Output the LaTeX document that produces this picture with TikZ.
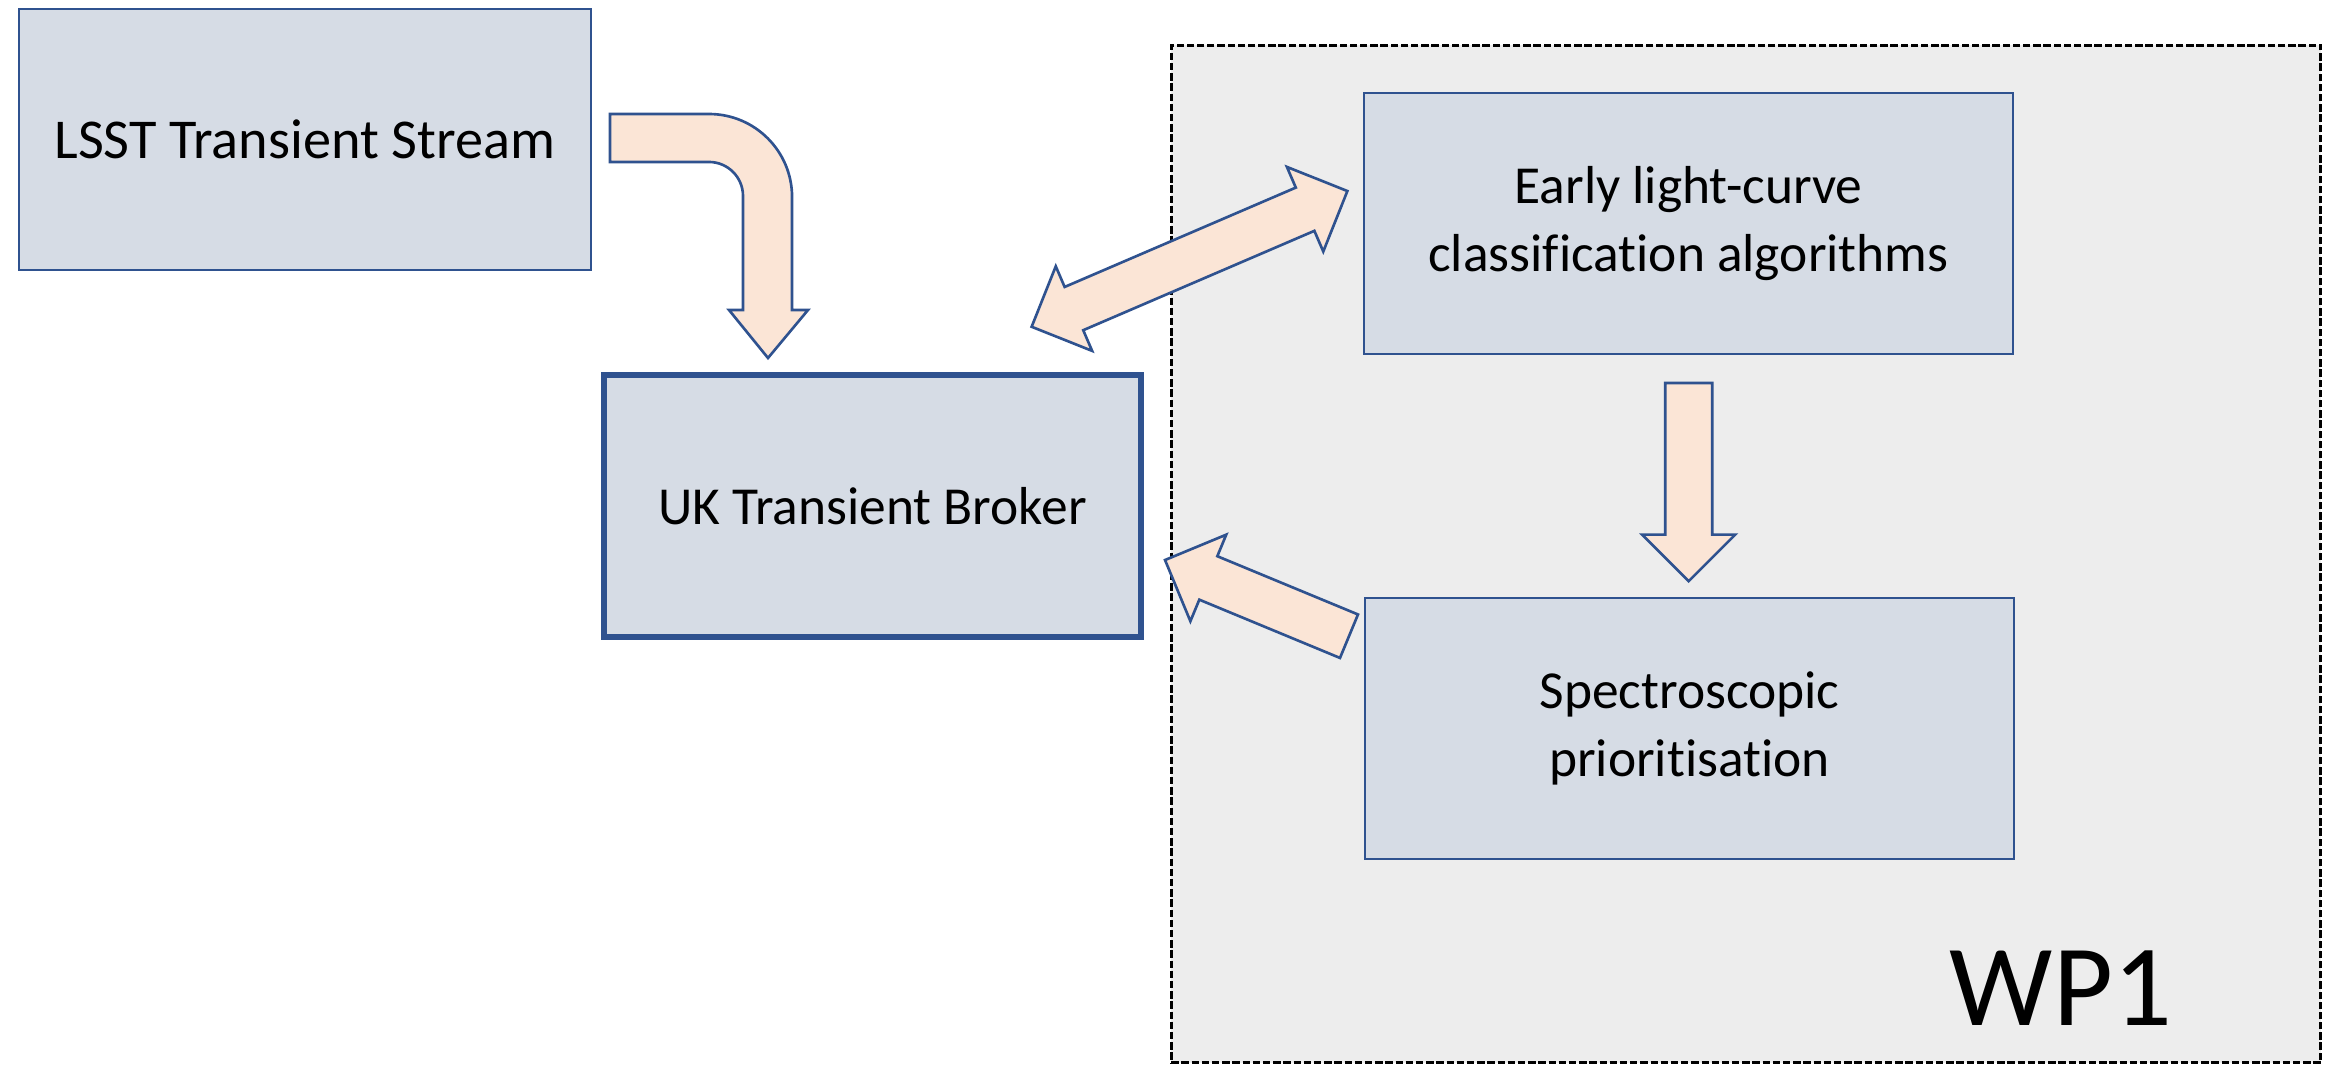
\documentclass[tikz,border=0pt]{standalone}
\usepackage{fontspec}
\setmainfont{Carlito}[Ligatures=CommonOff]
\usepackage{xcolor}
\usepackage{tikz}
\usetikzlibrary{shapes.arrows}
\definecolor{cBoxF}{HTML}{D6DCE5}
\definecolor{cBoxL}{HTML}{2F528F}
\definecolor{cArrF}{HTML}{FBE5D6}
\definecolor{cWpF}{HTML}{EDEDED}

\begin{document}
\begin{tikzpicture}[x=0.01cm,y=-0.01cm,
  box/.style={draw=cBoxL,fill=cBoxF,line width=0.6pt,inner sep=0pt,
    align=center,text=black,font=\fontsize{15.2}{19.3}\selectfont},
  wpbox/.style={box,minimum width=6.49cm,minimum height=2.61cm},
  blk/.style={draw=cBoxL,fill=cArrF,line width=0.75pt,inner xsep=0pt,inner ysep=0.222cm},
  region/.style={draw=black,fill=cWpF,line width=0.8pt,
    dash pattern=on 2.1pt off 0.8pt,inner sep=0pt}]

  \useasboundingbox (0,0) rectangle (2337,1070);

  % work package area
  \node[region,minimum width=11.49cm,minimum height=10.17cm] (wp) at (1746,554) {};
  \node[anchor=base west,inner sep=0pt,font=\fontsize{33}{40}\selectfont] (wplabel) at (1949,1025) {WP1};

  \node[box,minimum width=5.72cm,minimum height=2.61cm,
    font=\fontsize{16}{19.5}\selectfont] (lsst) at (305,139.5) {LSST Transient Stream};
  \node[box,line width=1.8pt,minimum width=5.37cm,minimum height=2.62cm] (broker)
    at (872.5,506) {UK Transient Broker};
  \node[wpbox] (early) at (1688.5,223.5) {Early light-curve\\classification algorithms};
  \node[wpbox] (spectro) at (1689.5,728.5) {Spectroscopic\\prioritisation};

  % stream into broker
  \draw[blk] (610,114) -- (709,114) arc[start angle=90,end angle=0,radius=0.83cm]
    -- (792,310) -- (808,310) -- (768,358) -- (729,310) -- (743,310)
    -- (743,196) arc[start angle=0,end angle=90,radius=0.34cm] -- (610,162) -- cycle;

  \node[blk,double arrow,double arrow head extend=0.225cm,minimum width=0.9cm,
    minimum height=3.435cm,rotate=23.26] (link) at (1189.5,258.9) {};
  \node[blk,single arrow,single arrow head extend=0.23cm,minimum width=0.91cm,
    minimum height=1.98cm,rotate=-90,anchor=tip] (down) at (1688.7,583) {};
  \node[blk,single arrow,single arrow head extend=0.233cm,minimum width=0.91cm,
    minimum height=1.99cm,rotate=157.5,anchor=tip] (back) at (1163.3,559.3) {};
\end{tikzpicture}
\end{document}
